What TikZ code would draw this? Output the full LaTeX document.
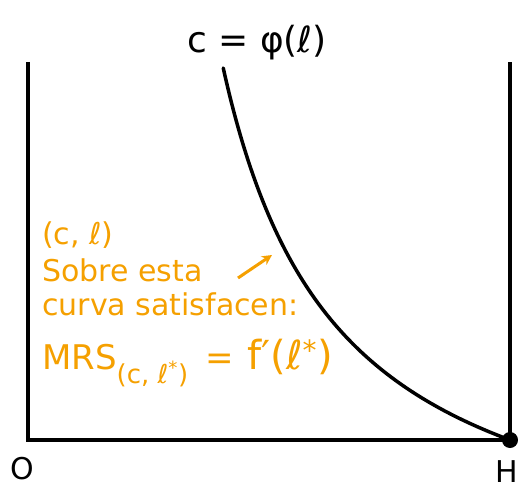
\documentclass[tikz,border=0pt]{standalone}
\usepackage{fontspec}
\setmainfont{DejaVu Sans}
\usetikzlibrary{arrows.meta}
\definecolor{org}{RGB}{245,160,0}
\newcommand{\lowsub}[1]{\raisebox{-0.4em}{\fontsize{26}{27}\selectfont #1}}
\tikzset{
  axis/.style={line width=3.5pt, black},
  curveline/.style={line width=3.5pt, black, line cap=round},
  olbl/.style={text=org, anchor=west, inner sep=0pt, font=\fontsize{30}{32}\selectfont},
  blbl/.style={text=black, inner sep=0pt, font=\fontsize{36}{38}\selectfont}
}
\begin{document}
\begin{tikzpicture}[x=1pt,y=-1pt]
\useasboundingbox (0,0) rectangle (518,489);
\coordinate (tl) at (28,62);
\coordinate (o) at (28,440);
\coordinate (h) at (510,440);
\coordinate (tr) at (510,62);
\draw[axis] (tl) -- (o) -- (h) -- (tr);
\draw[curveline] plot[domain=68:440, samples=90, variable=\t] ({107.6+603.61/(5.9-\t/100)},{\t});
\fill (h) circle (8);
\node[blbl] (lab) at (257,43) {c = φ(ℓ)};
\node[blbl, font=\fontsize{30}{32}\selectfont] (O) at (22,469) {O};
\node[blbl, font=\fontsize{30}{32}\selectfont] (H) at (507,472) {H};
\node[olbl] (t1) at (42,235) {(c, ℓ)};
\node[olbl] (t2) at (42,270) {Sobre esta};
\node[olbl] (t3) at (42,304) {curva satisfacen:};
\node[olbl, font=\fontsize{34}{36}\selectfont] (t4) at (42,363) {MRS\lowsub{(c, ℓ\textsuperscript{*})}\hspace{0.5em}=\hspace{0.4em}{\fontsize{40}{42}\selectfont f′(ℓ\textsuperscript{*})}};
\coordinate (a1) at (238,278);
\coordinate (a2) at (272,255);
\draw[org, line width=3pt, -{Stealth[length=10pt,width=10pt]}] (a1) -- (a2);
\end{tikzpicture}
\end{document}
